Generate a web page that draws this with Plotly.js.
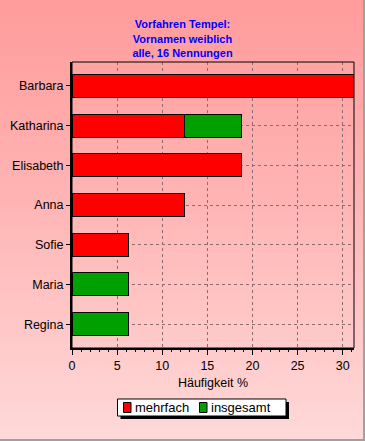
<!DOCTYPE html>
<html><head><meta charset="utf-8">
<script src="https://cdn.plot.ly/plotly-3.0.1.min.js"></script>
<style>
html,body{margin:0;padding:0;}
body{width:365px;height:441px;background:linear-gradient(to bottom,#ff9b9b 0%,#ffb4b4 45%,#ffd9d9 100%);}
#chart{width:365px;height:441px;position:relative;}
#frame{position:absolute;left:0;top:0;width:365px;height:441px;box-sizing:border-box;border-right:2px solid #a0a0a0;border-bottom:2px solid #a0a0a0;pointer-events:none;}
</style></head><body>
<div id="chart"></div>
<div id="frame"></div>
<script>
const categories = ["Barbara","Katharina","Elisabeth","Anna","Sofie","Maria","Regina"];
const mehrfach = [31.25, 12.5, 18.75, 12.5, 6.25, 0, 0];
const insgesamt = [0, 6.25, 0, 0, 0, 6.25, 6.25];
const xTicks = [0,5,10,15,20,25,30];
const seriesNames = ["mehrfach","insgesamt"];
const seriesColors = ["#ff0000","#00a000"];

const traces = [
  {type:'bar', orientation:'h', name:seriesNames[0], y:categories, x:mehrfach,
   marker:{color:seriesColors[0], line:{color:'#000000', width:1}}},
  {type:'bar', orientation:'h', name:seriesNames[1], y:categories, x:insgesamt,
   marker:{color:seriesColors[1], line:{color:'#000000', width:1}}}
];

// custom legend box (paper coordinates relative to the plot area)
const legShapes = [
  {type:'rect', xref:'paper', yref:'paper', x0:0.1720, x1:0.7695, y0:-0.2483, y1:-0.1888,
   fillcolor:'#000', line:{width:0}, layer:'above'},
  {type:'rect', xref:'paper', yref:'paper', x0:0.1613, x1:0.7589, y0:-0.2378, y1:-0.1783,
   fillcolor:'#fff', line:{color:'#000', width:1}, layer:'above'},
  {type:'rect', xref:'paper', yref:'paper', x0:0.1826, x1:0.2092, y0:-0.2255, y1:-0.1906,
   fillcolor:seriesColors[0], line:{color:'#000', width:1}, layer:'above'},
  {type:'rect', xref:'paper', yref:'paper', x0:0.4521, x1:0.4787, y0:-0.2255, y1:-0.1906,
   fillcolor:seriesColors[1], line:{color:'#000', width:1}, layer:'above'}
];
const legAnn = [
  {xref:'paper', yref:'paper', x:0.2234, y:-0.2080, xanchor:'left', yanchor:'middle',
   text:seriesNames[0], showarrow:false, font:{size:13, color:'#000'}, xshift:-2},
  {xref:'paper', yref:'paper', x:0.4929, y:-0.2080, xanchor:'left', yanchor:'middle',
   text:seriesNames[1], showarrow:false, font:{size:13, color:'#000'}, xshift:-2}
];

const layout = {
  width:365, height:441,
  margin:{l:72, r:11, t:62, b:93, autoexpand:false},
  paper_bgcolor:'rgba(0,0,0,0)', plot_bgcolor:'rgba(0,0,0,0)',
  barmode:'stack', bargap:0.42,
  font:{family:'Liberation Sans, Arial, sans-serif', size:12.5, color:'#000'},
  title:{text:'Vorfahren Tempel:<br>Vornamen weiblich<br>alle, 16 Nennungen',
    font:{family:'Liberation Sans, Arial, sans-serif', size:11, color:'#0000ff', weight:'bold'},
    x:0.5, xanchor:'center', y:0.936, yanchor:'top'},
  xaxis:{range:[0,31.25], tickvals:xTicks, ticktext:xTicks.map(String),
    showgrid:true, gridcolor:'#8c6c6c', griddash:'3px,3px', gridwidth:1,
    zeroline:false, showline:true, linecolor:'#000', linewidth:2,
    ticks:'outside', ticklen:5, tickcolor:'#000',
    minor:{dtick:1, ticks:'outside', ticklen:2, tickcolor:'#000', showgrid:false},
    title:{text:'Häufigkeit %', font:{size:12.5}, standoff:6}},
  yaxis:{autorange:false, range:[6.6,-0.6], type:'category',
    showgrid:true, gridcolor:'#8c6c6c', griddash:'3px,3px', gridwidth:1,
    zeroline:false, showline:true, linecolor:'#000', linewidth:2,
    ticks:'outside', ticklen:4, tickcolor:'#000'},
  showlegend:false,
  shapes:[
    {type:'rect', xref:'paper', yref:'paper', x0:0, x1:1, y0:0, y1:1,
     line:{color:'#000', width:1}, layer:'above'}
  ].concat(legShapes),
  annotations:legAnn
};
Plotly.newPlot('chart', traces, layout, {displayModeBar:false, staticPlot:true});
</script>
</body></html>
